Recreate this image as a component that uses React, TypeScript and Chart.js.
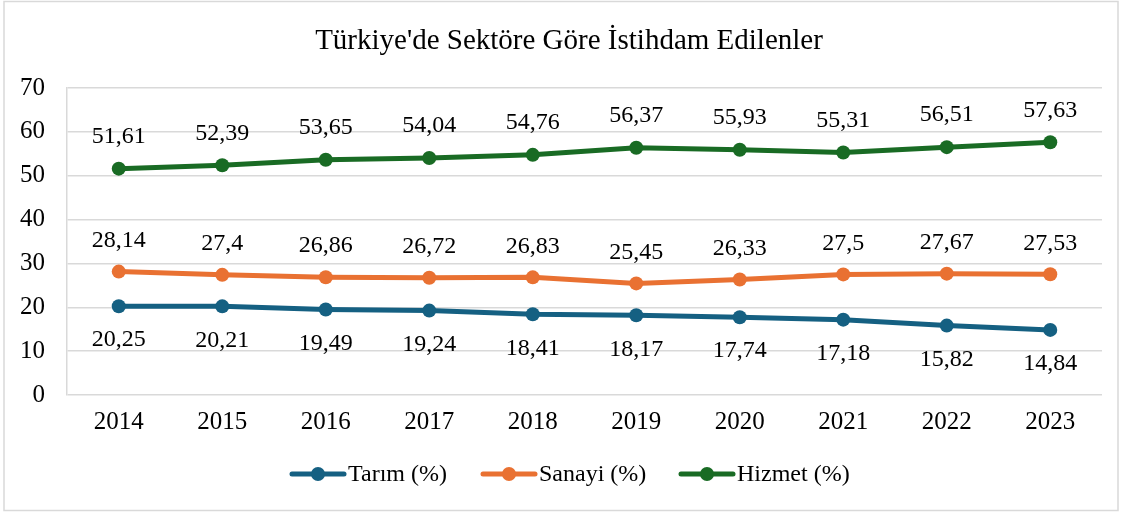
import React, { useEffect, useRef } from "react";
import { Chart, registerables } from "chart.js";

Chart.register(...registerables);

const years = ["2014", "2015", "2016", "2017", "2018", "2019", "2020", "2021", "2022", "2023"];
const tarim = [20.25, 20.21, 19.49, 19.24, 18.41, 18.17, 17.74, 17.18, 15.82, 14.84];
const sanayi = [28.14, 27.4, 26.86, 26.72, 26.83, 25.45, 26.33, 27.5, 27.67, 27.53];
const hizmet = [51.61, 52.39, 53.65, 54.04, 54.76, 56.37, 55.93, 55.31, 56.51, 57.63];
const seriesNames = ["Tarım (%)", "Sanayi (%)", "Hizmet (%)"];
const seriesColors = ["#156082", "#E97132", "#196B24"];
const labelOffsets = [34, -31, -32];
const titleText = "Türkiye'de Sektöre Göre İstihdam Edilenler";

const FONT = "'Liberation Serif', 'Times New Roman', serif";

const decorPlugin = {
  id: "decor",
  beforeDraw(chart: any) {
    const ctx = chart.ctx;
    ctx.save();
    ctx.fillStyle = "#ffffff";
    ctx.fillRect(0, 0, chart.width, chart.height);
    ctx.strokeStyle = "#d9d9d9";
    ctx.lineWidth = 1.5;
    ctx.strokeRect(4, 1.5, chart.width - 7, chart.height - 5);
    ctx.restore();
  },
  afterDatasetsDraw(chart: any) {
    const ctx = chart.ctx;
    ctx.save();
    ctx.font = `24px ${FONT}`;
    ctx.fillStyle = "#000000";
    ctx.textAlign = "center";
    ctx.textBaseline = "middle";
    chart.data.datasets.forEach((ds: any, i: number) => {
      const meta = chart.getDatasetMeta(i);
      meta.data.forEach((pt: any, j: number) => {
        const v = ds.data[j];
        ctx.fillText(String(v).replace(".", ","), pt.x, pt.y + labelOffsets[i]);
      });
    });
    // title
    ctx.font = `29px ${FONT}`;
    ctx.fillText(titleText, 569, 41);
    // legend
    const legendX = [290, 481, 679];
    const ly = 474;
    ctx.textAlign = "left";
    ctx.font = `24px ${FONT}`;
    seriesNames.forEach((name, i) => {
      const x0 = legendX[i];
      ctx.strokeStyle = seriesColors[i];
      ctx.lineWidth = 5;
      ctx.lineCap = "round";
      ctx.beginPath();
      ctx.moveTo(x0 + 2, ly);
      ctx.lineTo(x0 + 54, ly);
      ctx.stroke();
      ctx.fillStyle = seriesColors[i];
      ctx.beginPath();
      ctx.arc(x0 + 28, ly, 7, 0, Math.PI * 2);
      ctx.fill();
      ctx.fillStyle = "#000000";
      ctx.fillText(name, x0 + 58, ly + 1);
    });
    ctx.restore();
  },
};

export default function App() {
  const ref = useRef<HTMLCanvasElement | null>(null);
  useEffect(() => {
    document.body.style.margin = "0";
    const canvas = ref.current!;
    const data = [tarim, sanayi, hizmet];
    const chart = new Chart(canvas, {
      type: "line",
      data: {
        labels: years,
        datasets: data.map((d, i) => ({
          label: seriesNames[i],
          data: d,
          borderColor: seriesColors[i],
          backgroundColor: seriesColors[i],
          borderWidth: 5,
          pointRadius: 7,
          pointHoverRadius: 7,
          pointBorderWidth: 0,
          tension: 0,
        })),
      },
      options: {
        animation: false,
        responsive: false,
        maintainAspectRatio: false,
        layout: { padding: { top: 88, bottom: 0, left: 0, right: 19 } },
        plugins: {
          legend: { display: false },
          title: { display: false },
          tooltip: { enabled: false },
        },
        scales: {
          x: {
            offset: true,
            grid: { display: false },
            border: { display: false },
            ticks: { color: "#000", font: { family: FONT, size: 25 }, padding: 4 },
            afterFit(scale: any) {
              scale.height = 514 - 395;
            },
          },
          y: {
            min: 0,
            max: 70,
            ticks: { stepSize: 10, color: "#000", font: { family: FONT, size: 25 }, padding: 22 },
            grid: { color: "#d9d9d9", lineWidth: 1.5, drawTicks: false },
            border: { display: true, color: "#d9d9d9", width: 1.5 },
            afterFit(scale: any) {
              scale.width = 67;
            },
          },
        },
      },
      plugins: [decorPlugin],
    });
    return () => chart.destroy();
  }, []);
  return (
    <div style={{ width: 1121, height: 514 }}>
      <canvas ref={ref} width={1121} height={514} style={{ display: "block" }} />
    </div>
  );
}
